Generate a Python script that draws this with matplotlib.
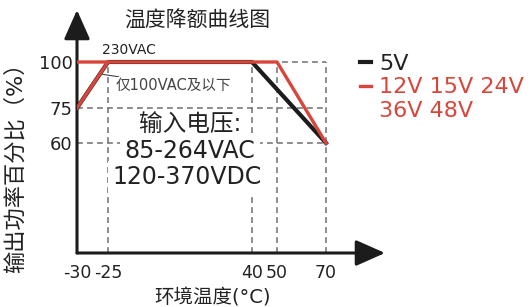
import numpy as np
import matplotlib
matplotlib.use("Agg")
import matplotlib.pyplot as plt
from matplotlib.lines import Line2D

plt.rcParams['font.family'] = ['DejaVu Sans', 'Noto Sans CJK SC']

# Data: temperature (°C) vs output power (%)
temp_5v = [-30, -25, 40, 70]
load_5v = [75, 100, 100, 60]
temp_hi = [-30, 50, 70]          # 230VAC, 12V-48V
load_hi = [100, 100, 60]
temp_lo = [-30, -25]             # 100VAC and below
load_lo = [75, 100]

x_ticks = [-30, -25, 40, 50, 70]
y_ticks = [60, 75, 100]

RED = '#d8453b'
BLACK = '#1c1c1c'
GRAY = '#7a7a7a'
TXT = '#222222'

# non-linear axes of the original drawing (value -> drawing position)
x_val = [-30, -25, 40, 50, 70, 100]
x_pos = [77, 108, 252, 277, 326, 399.5]
y_val = [0, 60, 75, 100, 140]
y_pos = [54, 164, 199, 245, 318.6]

def fx(v):
    return np.interp(v, x_val, x_pos)

def ix(p):
    return np.interp(p, x_pos, x_val)

def fy(v):
    return np.interp(v, y_val, y_pos)

def iy(p):
    return np.interp(p, y_pos, y_val)

fig = plt.figure(figsize=(5.31, 3.07), dpi=100)
ax = fig.add_axes([77 / 531, 54 / 307, 308 / 531, 243 / 307])
ax.set_xscale('function', functions=(fx, ix))
ax.set_yscale('function', functions=(fy, iy))
ax.set_xlim(-30, ix(385))
ax.set_ylim(0, iy(297))

for s in ax.spines.values():
    s.set_visible(False)

# axis arrows
arrow = dict(arrowstyle='-|>,head_width=0.4,head_length=0.9', color=BLACK,
             lw=2.2, mutation_scale=20, shrinkA=0, shrinkB=0)
ax.annotate('', xy=(1, 0), xytext=(0, 0), xycoords='axes fraction', arrowprops=arrow)
ax.annotate('', xy=(0, 1), xytext=(0, 0), xycoords='axes fraction', arrowprops=arrow)

# dashed guides
dash = dict(color=GRAY, lw=1.2, ls=(0, (3.5, 2.5)), zorder=1)
for yv in [75, 60]:
    ax.plot([-30, 70], [yv, yv], **dash)
ax.plot([40, 70], [100, 100], **dash)
for xv in [-25, 40, 50, 70]:
    ax.plot([xv, xv], [0, 100], **dash)

# curves
l5, = ax.plot(temp_5v, load_5v, color=BLACK, lw=3.0, zorder=3)
lr, = ax.plot(temp_hi, load_hi, color=RED, lw=2.4, zorder=4)
ax.plot(temp_lo, load_lo, color=RED, lw=2.4, zorder=4)

ax.set_xticks(x_ticks)
ax.set_xticklabels([str(v) for v in x_ticks])
ax.set_yticks(y_ticks)
ax.set_yticklabels([str(v) for v in y_ticks])
ax.tick_params(length=0, labelsize=13, labelcolor=TXT)
ax.tick_params(axis='x', pad=8, labelsize=12.5)
ax.tick_params(axis='y', pad=3)

ax.set_xlabel('环境温度(°C)', fontsize=14, color=TXT)
ax.xaxis.set_label_coords(0.44, -0.145)
ax.set_ylabel('输出功率百分比（%）', fontsize=16, color=TXT)
ax.yaxis.set_label_coords(-0.165, 0.375)
ax.set_title('温度降额曲线图', fontsize=15, color=TXT, x=0.39, y=0.93, pad=0)

ax.text(-15.5, 106.5, '230VAC', fontsize=10, color=TXT, ha='center', va='center')
ax.annotate('仅100VAC及以下', xy=(-26.3, 93.5), xytext=(-21.5, 87.5),
            fontsize=10.5, color='#444444', ha='left', va='center',
            bbox=dict(fc='white', ec='none', pad=0.5),
            arrowprops=dict(arrowstyle='-', color='#444444', lw=0.8,
                            shrinkA=0, shrinkB=0))
ax.text(12, 68.1, '输入电压:', fontsize=17, color=TXT, ha='center', va='center')
ax.text(12, 55.6, '85-264VAC', fontsize=17, color=TXT, ha='center', va='center',
        bbox=dict(fc='white', ec='none', pad=3), zorder=5)
ax.text(10.7, 41.5, '120-370VDC', fontsize=17, color=TXT, ha='center', va='center',
        bbox=dict(fc='white', ec='none', pad=3), zorder=5)

# legend
blank = Line2D([], [], color='none')
fig.legend([l5, lr, blank], ['5V', '12V 15V 24V', '36V 48V'],
           loc='upper left', bbox_to_anchor=(360 / 531, 1 - 54 / 307),
           frameon=False, fontsize=16, handlelength=0.5, handletextpad=0.35,
           labelspacing=0.15, borderpad=0, borderaxespad=0,
           labelcolor=[TXT, RED, RED])

fig.savefig('out.png', dpi=100)
